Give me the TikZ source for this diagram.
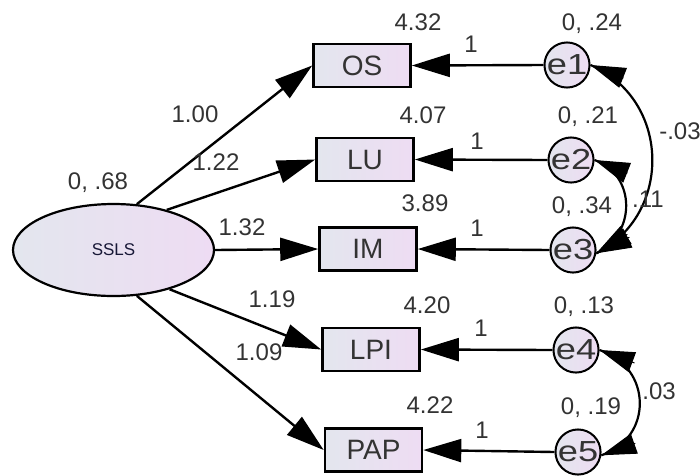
\documentclass[tikz,border=0pt]{standalone}
\usepackage{fontspec}
\usepackage{graphicx}
\setmainfont{Liberation Sans}
\usetikzlibrary{arrows.meta,shapes.geometric}
\definecolor{txt}{HTML}{333333}
\definecolor{fillL}{HTML}{E3E6EE}
\definecolor{fillR}{HTML}{EEDCF3}
\begin{document}
\begin{tikzpicture}[x=1pt,y=-1pt,
  obs/.style={draw=black, line width=2.6pt, left color=fillL, right color=fillR,
    minimum width=97pt, minimum height=43pt, inner sep=0pt,
    font=\fontsize{28}{28}\selectfont, text=txt},
  err/.style={circle, draw=black, line width=2pt, left color=fillL, right color=fillR,
    minimum size=44pt, inner sep=0pt, font=\fontsize{29}{29}\selectfont, text=txt},
  lat/.style={ellipse, draw=black, line width=2.2pt, left color=fillL, right color=fillR,
    minimum width=201pt, minimum height=92pt, inner sep=0pt,
    font=\fontsize{17}{17}\selectfont, text=txt!80!blue!60!black},
  lbl/.style={font=\fontsize{24}{24}\selectfont, text=txt, inner sep=0pt,
    text height=17pt, text depth=0pt},
  reg/.style={line width=2.4pt, -{Triangle[length=38pt,width=23pt]}},
  covline/.style={line width=2.2pt},
  covtip/.style={line width=1pt, -{Triangle[length=35pt,width=21pt]}}
]
\useasboundingbox (0,0) rectangle (700,475);

% latent variable
\node[lat] (ssls) at (113.5,250) {SSLS};

% observed variables
\node[obs] (os)  at (362,65.5) {OS};
\node[obs] (lu)  at (365,159.5) {LU};
\node[obs] (im)  at (368,249) {IM};
\node[obs] (lpi) at (371,349.5) {LPI};
\node[obs] (pap) at (373.5,450) {PAP};

% error terms
\node[err] (e1) at (567,65)  {\scalebox{1.25}[1]{e1}};
\node[err] (e2) at (571,160) {\scalebox{1.25}[1]{e2}};
\node[err] (e3) at (573,250) {\scalebox{1.25}[1]{e3}};
\node[err] (e4) at (576,350) {\scalebox{1.25}[1]{e4}};
\node[err] (e5) at (578,452) {\scalebox{1.25}[1]{e5}};

% regression paths
\draw[reg] (ssls.63)  -- (os.west);
\draw[reg] (ssls.37)  -- (lu.west);
\draw[reg] (ssls.east) -- (im.west);
\draw[reg] (ssls.-35) -- (lpi.west);
\draw[reg] (ssls.-63) -- (pap.west);

\draw[reg] (e1.west) -- (os.east);
\draw[reg] (e2.west) -- (lu.east);
\draw[reg] (e3.west) -- (im.east);
\draw[reg] (e4.west) -- (lpi.east);
\draw[reg] (e5.west) -- (pap.east);

% covariances (curve, then arrow tips at both ends)
\draw[covline] (e1.east) .. controls +(80,34) and +(77,-39) .. (e3.-8);
\draw[covline] (e2.east) .. controls +(42,15) and +(40,-19) .. (e3.-8);
\draw[covline] (e4.east) .. controls +(53,17) and +(52,-17) .. (e5.-8);
\draw[covtip] (e1.east) ++(33,13)  -- (e1.east);
\draw[covtip] (e3.-8)   ++(33,-16) -- (e3.-8);
\draw[covtip] (e2.east) ++(33,13)  -- (e2.east);
\draw[covtip] (e3.-8)   ++(31,-19) -- (e3.-8);
\draw[covtip] (e4.east) ++(35,13)  -- (e4.east);
\draw[covtip] (e5.-8)   ++(34,-12) -- (e5.-8);

% labels
\node[lbl] (l68)  at (98,181)  {0, .68};
\node[lbl] (l100) at (195,114) {1.00};
\node[lbl] (l122) at (216,162) {1.22};
\node[lbl] (l132) at (242,227) {1.32};
\node[lbl] (l119) at (272,299) {1.19};
\node[lbl] (l109) at (259,352) {1.09};

\node[lbl] (i1) at (418,22)  {4.32};
\node[lbl] (i2) at (423,115) {4.07};
\node[lbl] (i3) at (425,203) {3.89};
\node[lbl] (i4) at (427,305) {4.20};
\node[lbl] (i5) at (430,405) {4.22};

\node[lbl] (v1) at (592,22)  {0, .24};
\node[lbl] (v2) at (588,115) {0, .21};
\node[lbl] (v3) at (582,205) {0, .34};
\node[lbl] (v4) at (584,305) {0, .13};
\node[lbl] (v5) at (591,406) {0, .19};

\node[lbl] (w1) at (471,44)  {1};
\node[lbl] (w2) at (477,141) {1};
\node[lbl] (w3) at (477,228) {1};
\node[lbl] (w4) at (481,328) {1};
\node[lbl] (w5) at (482,430) {1};

\node[lbl] (c13) at (680,131) {-.03};
\node[lbl] (c23) at (648,199) {.11};
\node[lbl] (c45) at (659,391) {.03};
\end{tikzpicture}
\end{document}
